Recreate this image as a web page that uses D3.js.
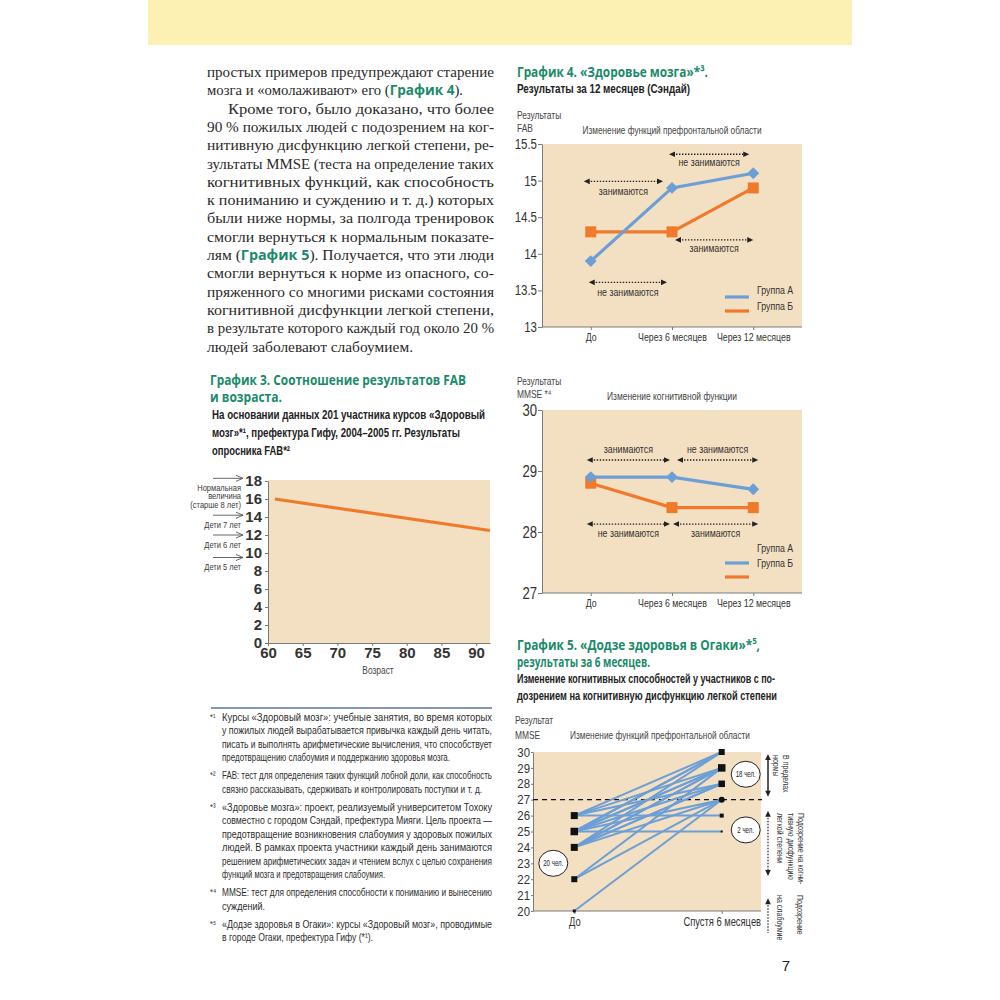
<!DOCTYPE html>
<html><head><meta charset="utf-8">
<script src="https://cdn.jsdelivr.net/npm/d3@7/dist/d3.min.js"></script>
<style>html,body{margin:0;padding:0;background:#fff}</style>
</head><body><svg id="page" width="1000" height="1000" xmlns="http://www.w3.org/2000/svg"></svg>
<script>
// ================= DATA =================
const bodyLines = [
  "простых примеров предупреждают старение",
  "мозга и «омолаживают» его ([График 4]).",
  "Кроме того, было доказано, что более",
  "90 % пожилых людей с подозрением на ког-",
  "нитивную дисфункцию легкой степени, ре-",
  "зультаты MMSE (теста на определение таких",
  "когнитивных функций, как способность",
  "к пониманию и суждению и т. д.) которых",
  "были ниже нормы, за полгода тренировок",
  "смогли вернуться к нормальным показате-",
  "лям ([График 5]). Получается, что эти люди",
  "смогли вернуться к норме из опасного, со-",
  "пряженного со многими рисками состояния",
  "когнитивной дисфункции легкой степени,",
  "в результате которого каждый год около 20 %",
  "людей заболевают слабоумием."
];

// График 3
const fabAges = [61, 92];
const fabByAge = [16.0, 12.5];
const fabYTicks = [0, 2, 4, 6, 8, 10, 12, 14, 16, 18];
const ageTicks = [60, 65, 70, 75, 80, 85, 90];
const childNorms = [
  {lines: ["Нормальная", "величина", "(старше 8 лет)"], level: 18.3},
  {lines: ["Дети 7 лет"], level: 14.2},
  {lines: ["Дети 6 лет"], level: 12},
  {lines: ["Дети 5 лет"], level: 9.5}
];

// График 4
const periods = ["До", "Через 6 месяцев", "Через 12 месяцев"];
const groups = ["Группа А", "Группа Б"];
const fabTicks = [13, 13.5, 14, 14.5, 15, 15.5];
const fabGroupA = [13.9, 14.9, 15.1];
const fabGroupB = [14.3, 14.3, 14.9];
const mmseTicks = [27, 28, 29, 30];
const mmseGroupA = [28.9, 28.9, 28.7];
const mmseGroupB = [28.8, 28.4, 28.4];

// График 5
const ogakiPeriods = ["До", "Спустя 6 месяцев"];
const ogakiTicks = [20, 21, 22, 23, 24, 25, 26, 27, 28, 29, 30];
const ogakiBefore = [26, 26, 26, 26, 25, 25, 25, 25, 25, 25, 25, 24, 24, 24, 24, 24, 24, 22, 22, 20];
const ogakiAfter  = [30, 29, 28, 26, 30, 30, 29, 29, 28, 27, 25, 30, 29, 29, 28, 28, 27, 29, 27, 27];
const ogakiNormal = 27;

const footnotes = [
  {mark: "*¹", lines: [
    "Курсы «Здоровый мозг»: учебные занятия, во время которых",
    "у пожилых людей вырабатывается привычка каждый день читать,",
    "писать и выполнять арифметические вычисления, что способствует",
    "предотвращению слабоумия и поддержанию здоровья мозга."]},
  {mark: "*²", lines: [
    "FAB: тест для определения таких функций лобной доли, как способность",
    "связно рассказывать, сдерживать и контролировать поступки и т. д."]},
  {mark: "*³", lines: [
    "«Здоровье мозга»: проект, реализуемый университетом Тохоку",
    "совместно с городом Сэндай, префектура Мияги. Цель проекта —",
    "предотвращение возникновения слабоумия у здоровых пожилых",
    "людей. В рамках проекта участники каждый день занимаются",
    "решением арифметических задач и чтением вслух с целью сохранения",
    "функций мозга и предотвращения слабоумия."]},
  {mark: "*⁴", lines: [
    "MMSE: тест для определения способности к пониманию и вынесению",
    "суждений."]},
  {mark: "*⁵", lines: [
    "«Додзе здоровья в Огаки»: курсы «Здоровый мозг», проводимые",
    "в городе Огаки, префектура Гифу (*¹)."]}
];

// ================= STYLE =================
const COND = "'Liberation Sans',Arial,sans-serif";   // condensed via textLength
const SANS = "'Liberation Sans',Arial,sans-serif";
const SERIF = "'Liberation Serif','DejaVu Serif',serif";
const HEAD = "'Open Sans','Noto Sans',sans-serif";
const GREEN = "#1b8a6b";
const BLUE = "#6c9fd6";
const ORANGE = "#f07a2b";
const BG = "#f3dfc1";
const INK = "#333";

const svg = d3.select("#page");

// text helper: [..] = green bold run
function T(g, x, y, s, o = {}) {
  const size = o.s || 11;
  const t = g.append("text").attr("x", x).attr("y", y)
    .attr("font-family", o.f || COND).attr("font-size", size)
    .attr("font-weight", o.w || "normal").attr("fill", o.c || INK)
    .attr("text-anchor", o.a || "start");
  if (o.db) t.attr("dominant-baseline", o.db);
  if (o.tr) t.attr("transform", o.tr);
  const parts = s.split(/(\[[^\]]+\])/).filter(p => p.length);
  parts.forEach(p => {
    const ts = t.append("tspan");
    if (p[0] === "[") {
      ts.text(p.slice(1, -1)).attr("font-family", HEAD).attr("font-weight", "bold").attr("fill", GREEN).attr("font-size", size * 0.92);
    } else ts.text(p);
  });
  if (o.len) t.attr("textLength", o.len).attr("lengthAdjust", "spacingAndGlyphs");
  else if (!o.f) condense(t, o.fac || 0.8);
  return t;
}
function condense(t, fac) {
  const n = t.node().getComputedTextLength();
  if (n > 0) t.attr("textLength", n * fac).attr("lengthAdjust", "spacingAndGlyphs");
}

function arrowHead(g, x, y, dir, color, len = 5, half = 3) {
  let pts;
  if (dir === "l") pts = [[x, y], [x + len, y - half], [x + len, y + half]];
  if (dir === "r") pts = [[x, y], [x - len, y - half], [x - len, y + half]];
  if (dir === "u") pts = [[x, y], [x - half, y + len], [x + half, y + len]];
  if (dir === "d") pts = [[x, y], [x - half, y - len], [x + half, y - len]];
  g.append("path").attr("d", d3.line()(pts) + "Z").attr("fill", color);
}
function hArrow(g, x1, x2, y) {
  g.append("line").attr("x1", x1 + 4).attr("x2", x2 - 4).attr("y1", y).attr("y2", y)
    .attr("stroke", "#222").attr("stroke-width", 1.3).attr("stroke-dasharray", "1.4,1.6");
  arrowHead(g, x1, y, "l", "#222", 6, 2.8);
  arrowHead(g, x2, y, "r", "#222", 6, 2.8);
}
function vArrow(g, x, y1, y2, dashed, both) {
  g.append("line").attr("x1", x).attr("x2", x).attr("y1", y1 + 4).attr("y2", both ? y2 - 4 : y2)
    .attr("stroke", "#222").attr("stroke-width", dashed ? 1.2 : 1.5)
    .attr("stroke-dasharray", dashed ? "1.4,1.6" : null);
  arrowHead(g, x, y1, "u", "#222", 6, 2.8);
  if (both) arrowHead(g, x, y2, "d", "#222", 6, 2.8);
}
function styleAxis(ax, fontSize, family, weight, fac) {
  ax.select(".domain").attr("stroke", "#7a7a7a").attr("stroke-width", 1);
  ax.selectAll(".tick line").attr("stroke", "#7a7a7a");
  ax.selectAll(".tick text").attr("font-family", family).attr("font-size", fontSize)
    .attr("font-weight", weight || "normal").attr("fill", INK)
    .each(function () { if (fac) condense(d3.select(this), fac); });
}

// ================= PAGE =================
svg.append("rect").attr("x", 148).attr("y", 0).attr("width", 704).attr("height", 45).attr("fill", "#fdf0b3");

// body text
const bodyG = svg.append("g");
bodyLines.forEach((s, i) => {
  const x = i === 2 ? 228 : 207;
  let end = 494;
  if (i === 1) end = 463;
  if (i === 15) end = 413;
  T(bodyG, x, 77 + i * 18.3, s, {f: SERIF, s: 15.5, c: "#2a2a2a", len: end - x});
});

// ---------- График 3 ----------
const g3 = svg.append("g");
T(g3, 210, 385, "График 3. Соотношение результатов FAB", {f: HEAD, s: 14, w: "bold", c: GREEN, len: 256});
T(g3, 210, 402, "и возраста.", {f: HEAD, s: 14, w: "bold", c: GREEN, len: 72});
T(g3, 212, 419, "На основании данных 201 участника курсов «Здоровый", {s: 12.5, w: "bold", c: "#222", len: 273});
T(g3, 212, 437, "мозг»*¹, префектура Гифу, 2004–2005 гг. Результаты", {s: 12.5, w: "bold", c: "#222", len: 248});
T(g3, 212, 455, "опросника FAB*²", {s: 12.5, w: "bold", c: "#222", len: 78});

const ageX = d3.scaleLinear().domain([60, 92]).range([268, 490]);
const fabY = d3.scaleLinear().domain([0, 18]).range([643, 481]);
g3.append("rect").attr("x", ageX(60)).attr("y", fabY(18) - 1).attr("width", ageX(92) - ageX(60))
  .attr("height", fabY(0) - fabY(18) + 1).attr("fill", BG);
const ax3y = g3.append("g").attr("transform", `translate(${ageX(60)},0)`)
  .call(d3.axisLeft(fabY).tickValues(fabYTicks).tickSize(3).tickPadding(3).tickSizeOuter(0));
styleAxis(ax3y, 15, SANS, "bold");
const ax3x = g3.append("g").attr("transform", `translate(0,${fabY(0)})`)
  .call(d3.axisBottom(ageX).tickValues(ageTicks).tickSize(3).tickPadding(1).tickSizeOuter(0));
styleAxis(ax3x, 15, SANS, "bold");
g3.append("path").datum(fabAges.map((a, i) => [a, fabByAge[i]]))
  .attr("d", d3.line().x(d => ageX(d[0])).y(d => fabY(d[1])))
  .attr("fill", "none").attr("stroke", ORANGE).attr("stroke-width", 3.2);
T(g3, 378, 674, "Возраст", {s: 10.5, a: "middle", c: "#444"});
childNorms.forEach(n => {
  const y = fabY(n.level);
  g3.append("line").attr("x1", 213).attr("x2", 243).attr("y1", y).attr("y2", y).attr("stroke", "#555").attr("stroke-width", 0.9);
  g3.append("path").attr("d", `M${236},${y - 3}L${243},${y}L${236},${y + 3}`).attr("fill", "none").attr("stroke", "#555").attr("stroke-width", 0.9);
  n.lines.forEach((l, j) => T(g3, 241, y + 12.5 + j * 8.4, l, {s: 9.4, a: "end", c: "#3a3a3a", fac: 0.8}));
});

// footnotes
const fg = svg.append("g");
fg.append("line").attr("x1", 211).attr("x2", 492).attr("y1", 708).attr("y2", 708).attr("stroke", "#5a76a6").attr("stroke-width", 1.5);
let li = 0;
const noteEnds = [450, 482, 385, 265, 373];
footnotes.forEach((fn, b) => {
  fn.lines.forEach((l, j) => {
    const y = 721 + li * 13.4 + b * 4.8;
    if (j === 0) T(fg, 210, y - 1, fn.mark, {s: 9, c: "#333", fac: 0.85});
    const full = j < fn.lines.length - 1;
    T(fg, 222, y, l, {s: 11.5, c: "#2e2e2e", len: (full ? 492 : noteEnds[b]) - 222});
    li++;
  });
});

// ---------- График 4 ----------
const g4 = svg.append("g");
T(g4, 517, 77, "График 4. «Здоровье мозга»*³.", {f: HEAD, s: 14, w: "bold", c: GREEN, len: 191});
T(g4, 517, 93, "Результаты за 12 месяцев (Сэндай)", {s: 12.5, w: "bold", c: "#222", len: 173});

const xP = d3.scalePoint().domain(periods).range([542, 802]).padding(0.6);

function lineChart(g, y, ticks, fmt, A, B, ann, legendOff, labels, fontTick) {
  const [y0, y1] = y.range();
  g.append("rect").attr("x", 542).attr("y", y1).attr("width", 260).attr("height", y0 - y1).attr("fill", BG);
  const ay = g.append("g").attr("transform", "translate(542,0)")
    .call(d3.axisLeft(y).tickValues(ticks).tickFormat(fmt).tickSize(4).tickPadding(1).tickSizeOuter(0));
  styleAxis(ay, fontTick, COND, "normal", 0.82);
  const axx = g.append("g").attr("transform", `translate(0,${y0})`)
    .call(d3.axisBottom(xP).tickSize(3).tickPadding(3).tickSizeOuter(0));
  styleAxis(axx, 11, COND, "normal", 0.8);
  axx.select(".domain").attr("d", `M542,0H802`);
  const ln = d3.line().x((d, i) => xP(periods[i])).y(d => y(d));
  g.append("path").datum(B).attr("d", ln).attr("fill", "none").attr("stroke", ORANGE).attr("stroke-width", 3.2);
  g.append("path").datum(A).attr("d", ln).attr("fill", "none").attr("stroke", BLUE).attr("stroke-width", 3.2);
  B.forEach((v, i) => g.append("rect").attr("x", xP(periods[i]) - 5.5).attr("y", y(v) - 5.5).attr("width", 11).attr("height", 11).attr("fill", ORANGE));
  A.forEach((v, i) => g.append("path").attr("d", d3.symbol(d3.symbolDiamond2, 90)()).attr("transform", `translate(${xP(periods[i])},${y(v)})`).attr("fill", BLUE));
  ann.forEach(a => {
    const x1 = xP(periods[a.from]) + a.d1, x2 = xP(periods[a.to]) + a.d2;
    hArrow(g, x1, x2, y(a.y));
    T(g, (x1 + x2) / 2, y(a.ly), a.label, {s: 11, a: "middle", db: "central", c: "#333"});
  });
  // legend
  T(g, 757, y0 - legendOff[0], groups[0], {s: 11, db: "central"});
  T(g, 757, y0 - legendOff[1], groups[1], {s: 11, db: "central"});
  g.append("line").attr("x1", 725).attr("x2", 749).attr("y1", y0 - 30).attr("y2", y0 - 30).attr("stroke", BLUE).attr("stroke-width", 3.2);
  g.append("line").attr("x1", 725).attr("x2", 749).attr("y1", y0 - 16).attr("y2", y0 - 16).attr("stroke", ORANGE).attr("stroke-width", 3.2);
  T(g, 517, y1 - 25, labels[0], {s: 10.5, c: "#444"});
  T(g, 517, y1 - 12.5, labels[1], {s: 10.5, c: "#444"});
  T(g, 672, y1 - 10, labels[2], {s: 10.5, a: "middle", c: "#444", len: labels[3]});
}

const yFab = d3.scaleLinear().domain([13, 15.5]).range([327, 144]);
lineChart(g4, yFab, fabTicks, d => String(d), fabGroupA, fabGroupB, [
  {from: 1, to: 2, d1: -3, d2: -4, y: 15.36, label: "не занимаются", ly: 15.25},
  {from: 0, to: 1, d1: -7, d2: -9, y: 14.99, label: "занимаются", ly: 14.86},
  {from: 1, to: 2, d1: 3, d2: 0, y: 14.19, label: "занимаются", ly: 14.08},
  {from: 0, to: 1, d1: -2, d2: -5, y: 13.61, label: "не занимаются", ly: 13.48}
], [37, 21], ["Результаты", "FAB", "Изменение функций префронтальной области", 179], 14);

const g4b = svg.append("g");
const yMm = d3.scaleLinear().domain([27, 30]).range([593, 410]);
lineChart(g4b, yMm, mmseTicks, d => String(d), mmseGroupA, mmseGroupB, [
  {from: 0, to: 1, d1: -4, d2: -2, y: 29.18, label: "занимаются", ly: 29.36},
  {from: 1, to: 2, d1: 5, d2: 5, y: 29.18, label: "не занимаются", ly: 29.36},
  {from: 0, to: 1, d1: -4, d2: -2, y: 28.13, label: "не занимаются", ly: 27.98},
  {from: 1, to: 2, d1: 1, d2: 5, y: 28.13, label: "занимаются", ly: 27.98}
], [45, 30], ["Результаты", "MMSE *⁴", "Изменение когнитивной функции", 130], 16);

// ---------- График 5 ----------
const g5 = svg.append("g");
T(g5, 517, 650, "График 5. «Додзе здоровья в Огаки»*⁵,", {f: HEAD, s: 14, w: "bold", c: GREEN, len: 243});
T(g5, 517, 667, "результаты за 6 месяцев.", {f: HEAD, s: 14, w: "bold", c: GREEN, len: 133});
T(g5, 517, 683, "Изменение когнитивных способностей у участников с по-", {s: 12.5, w: "bold", c: "#222", len: 258});
T(g5, 517, 700, "дозрением на  когнитивную дисфункцию легкой степени", {s: 12.5, w: "bold", c: "#222", len: 260});
T(g5, 515, 724, "Результат", {s: 10.5, c: "#444"});
T(g5, 515, 739, "MMSE", {s: 10.5, c: "#444"});
T(g5, 660, 739, "Изменение функций префронтальной области", {s: 10.5, a: "middle", c: "#444", len: 180});

const xO = d3.scalePoint().domain(ogakiPeriods).range([533, 763]).padding(0.28);
const yO = d3.scaleLinear().domain([20, 30]).range([911, 752]);
g5.append("rect").attr("x", 533).attr("y", yO(30)).attr("width", 228).attr("height", yO(20) - yO(30)).attr("fill", BG);
const ay5 = g5.append("g").attr("transform", "translate(533,0)")
  .call(d3.axisLeft(yO).tickValues(ogakiTicks).tickSize(2).tickPadding(1).tickSizeOuter(0));
styleAxis(ay5, 13, COND, "normal", 0.88);
const ax5 = g5.append("g").attr("transform", `translate(0,${yO(20)})`)
  .call(d3.axisBottom(xO).tickSize(3).tickPadding(3).tickSizeOuter(0));
styleAxis(ax5, 12, COND, "normal", 0.78);
ax5.select(".domain").attr("d", "M533,0H761");
g5.append("line").attr("x1", 533).attr("x2", 762).attr("y1", yO(ogakiNormal)).attr("y2", yO(ogakiNormal))
  .attr("stroke", "#111").attr("stroke-width", 1.3).attr("stroke-dasharray", "5,4");
ogakiBefore.forEach((b, i) => {
  g5.append("line").attr("x1", xO(ogakiPeriods[0])).attr("y1", yO(b))
    .attr("x2", xO(ogakiPeriods[1])).attr("y2", yO(ogakiAfter[i]))
    .attr("stroke", BLUE).attr("stroke-width", 2);
});
const sizeBefore = {26: 7, 25: 7.5, 24: 7, 22: 6, 20: 3};
const sizeAfter = {30: 6, 29: 7.5, 28: 6.5, 26: 4, 25: 2};
Array.from(new Set(ogakiBefore)).forEach(v => {
  const s = sizeBefore[v];
  g5.append("rect").attr("x", xO(ogakiPeriods[0]) - s / 2).attr("y", yO(v) - s / 2).attr("width", s).attr("height", s).attr("fill", "#111");
});
Array.from(new Set(ogakiAfter)).forEach(v => {
  if (v === ogakiNormal) {
    g5.append("circle").attr("cx", xO(ogakiPeriods[1])).attr("cy", yO(v)).attr("r", 3).attr("fill", "#111");
  } else {
    const s = sizeAfter[v];
    g5.append("rect").attr("x", xO(ogakiPeriods[1]) - s / 2).attr("y", yO(v) - s / 2).attr("width", s).attr("height", s).attr("fill", "#111");
  }
});
function bubble(cx, cy, label) {
  g5.append("ellipse").attr("cx", cx).attr("cy", cy).attr("rx", 14.5).attr("ry", 13).attr("fill", "#fff").attr("stroke", "#222").attr("stroke-width", 1);
  T(g5, cx, cy, label, {s: 8.5, a: "middle", db: "central", c: "#222", fac: 0.72});
}
bubble(xO(ogakiPeriods[0]) - 21, yO(23.0), "20 чел.");
bubble(xO(ogakiPeriods[1]) + 24, yO(28.6), "18 чел.");
bubble(xO(ogakiPeriods[1]) + 24, yO(25.1), "2 чел.");

// right-side brackets
vArrow(g5, 768, yO(30) + 2, yO(27) - 3, false, true);
vArrow(g5, 768, yO(26.3), yO(22.2), true, true);
vArrow(g5, 768, yO(20.8), 933, true, false);
const vt = [
  {lines: ["В пределах", "нормы"], y: 755, xs: [786, 775.5]},
  {lines: ["Подозрение на когни-", "тивную дисфункцию", "легкой степени"], y: 813, xs: [801, 790.5, 780]},
  {lines: ["Подозрение", "на слабоумие"], y: 895, xs: [800, 780]}
];
vt.forEach(b => b.lines.forEach((l, j) => {
  T(g5, 0, 0, l, {s: 9.3, db: "central", c: "#333", fac: 0.76, tr: `translate(${b.xs[j]},${b.y}) rotate(90)`});
}));

// page number
T(svg, 786, 971, "7", {f: SANS, s: 15, a: "middle", c: "#222"});
</script>
</body></html>
